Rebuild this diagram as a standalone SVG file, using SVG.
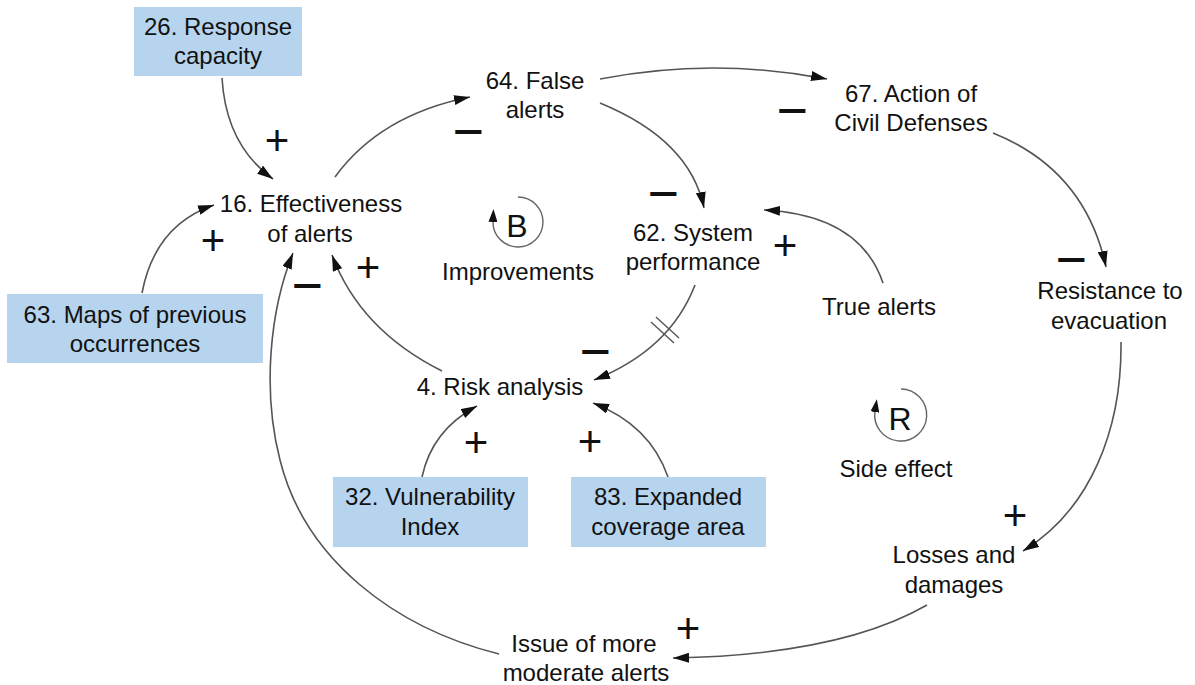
<svg xmlns="http://www.w3.org/2000/svg" width="1195" height="685" viewBox="0 0 1195 685">
  <defs>
    <marker id="arrow" markerUnits="userSpaceOnUse" markerWidth="16" markerHeight="10" viewBox="0 0 16 10" refX="16" refY="5" orient="auto">
      <path d="M0,0 L16,5 L0,10 z" fill="#111"/>
    </marker>
    <marker id="loopArrow" markerUnits="userSpaceOnUse" markerWidth="13" markerHeight="9" viewBox="0 0 13 9" refX="1" refY="4.5" orient="auto">
      <path d="M0,0 L13,4.5 L0,9 z" fill="#111"/>
    </marker>
    <style>
      .lbl { font-family: "Liberation Sans", Arial, sans-serif; font-size: 24px; fill: #111; text-anchor: middle; }
      .box { fill: #b6d4ee; }
      .link { fill: none; stroke: #555; stroke-width: 1.6; marker-end: url(#arrow); }
      .delay { stroke: #555; stroke-width: 1.4; }
      .loop { fill: none; stroke: #666; stroke-width: 1.4; marker-end: url(#loopArrow); }
      .loopTxt { font-family: "Liberation Sans", Arial, sans-serif; font-size: 32px; fill: #111; text-anchor: middle; }
      .plus { font-family: "Liberation Sans", Arial, sans-serif; font-size: 42px; fill: #111; text-anchor: middle; }
      .minus { font-family: "Liberation Sans", Arial, sans-serif; font-size: 36px; font-weight: bold; fill: #111; text-anchor: middle; }
    </style>
  </defs>

  <rect width="1195" height="685" fill="#fff"/>

  <!-- causal links -->
  <g id="connectors">
    <path class="link" d="M222,78 Q226,145 273,179"/>
    <path class="link" d="M142,293 Q155,225 214,205"/>
    <path class="link" d="M335,177 Q380,115 470,97"/>
    <path class="link" d="M600,79 Q713,57 827,79"/>
    <path class="link" d="M600,103 Q690,140 704,208"/>
    <path class="link" d="M883,283 Q860,215 764,210"/>
    <path class="link" d="M695,285 Q670,350 594,380"/>
    <line class="delay" x1="651" y1="322" x2="674" y2="343"/>
    <line class="delay" x1="656" y1="317" x2="679" y2="338"/>
    <path class="link" d="M442,371 Q360,330 332,255"/>
    <path class="link" d="M499,654 C395,628 305,560 280,460 C262,390 270,310 293,253"/>
    <path class="link" d="M993,133 Q1085,170 1106,267"/>
    <path class="link" d="M1121,342 C1122,430 1090,510 1023,551"/>
    <path class="link" d="M927,605 Q840,655 673,658"/>
    <path class="link" d="M422,477 Q432,430 477,406"/>
    <path class="link" d="M668,477 Q650,425 593,403"/>

    <!-- polarity signs -->
    <text class="plus" x="277" y="155">+</text>
    <text class="plus" x="213" y="255">+</text>
    <text class="minus" transform="translate(468,144) scale(1.45,1)">−</text>
    <text class="minus" transform="translate(792,123) scale(1.45,1)">−</text>
    <text class="minus" transform="translate(663,206) scale(1.45,1)">−</text>
    <text class="plus" x="785" y="260">+</text>
    <text class="minus" transform="translate(595,364) scale(1.45,1)">−</text>
    <text class="plus" x="368" y="282">+</text>
    <text class="minus" transform="translate(307,298) scale(1.45,1)">−</text>
    <text class="minus" transform="translate(1071,272) scale(1.45,1)">−</text>
    <text class="plus" x="1015" y="530">+</text>
    <text class="plus" x="688" y="643">+</text>
    <text class="plus" x="476" y="457">+</text>
    <text class="plus" x="590" y="456">+</text>
  </g>

  <!-- exogenous variables (shaded) -->
  <g id="n26">
    <rect class="box" x="134" y="7" width="168" height="69"/>
    <text class="lbl" x="218" y="35">26. Response</text>
    <text class="lbl" x="218" y="64">capacity</text>
  </g>
  <g id="n63">
    <rect class="box" x="7" y="294" width="256" height="69"/>
    <text class="lbl" x="135" y="323">63. Maps of previous</text>
    <text class="lbl" x="135" y="352">occurrences</text>
  </g>
  <g id="n32">
    <rect class="box" x="333" y="477" width="195" height="70"/>
    <text class="lbl" x="430" y="505">32. Vulnerability</text>
    <text class="lbl" x="430" y="535">Index</text>
  </g>
  <g id="n83">
    <rect class="box" x="571" y="477" width="195" height="70"/>
    <text class="lbl" x="668" y="505">83. Expanded</text>
    <text class="lbl" x="668" y="535">coverage area</text>
  </g>

  <!-- internal variables -->
  <g id="n16">
    <text class="lbl" x="311" y="212">16. Effectiveness</text>
    <text class="lbl" x="310" y="242">of alerts</text>
  </g>
  <g id="n64">
    <text class="lbl" x="535" y="89">64. False</text>
    <text class="lbl" x="535" y="118">alerts</text>
  </g>
  <g id="n67">
    <text class="lbl" x="911" y="102">67. Action of</text>
    <text class="lbl" x="911" y="131">Civil Defenses</text>
  </g>
  <g id="n62">
    <text class="lbl" x="693" y="241">62. System</text>
    <text class="lbl" x="693" y="270">performance</text>
  </g>
  <g id="nTrue">
    <text class="lbl" x="879" y="315">True alerts</text>
  </g>
  <g id="nResist">
    <text class="lbl" x="1110" y="299">Resistance to</text>
    <text class="lbl" x="1109" y="329">evacuation</text>
  </g>
  <g id="n4">
    <text class="lbl" x="500" y="395">4. Risk analysis</text>
  </g>
  <g id="nLosses">
    <text class="lbl" x="954" y="563">Losses and</text>
    <text class="lbl" x="954" y="593">damages</text>
  </g>
  <g id="nIssue">
    <text class="lbl" x="584" y="652">Issue of more</text>
    <text class="lbl" x="586" y="681">moderate alerts</text>
  </g>

  <!-- loop markers -->
  <g id="loopB">
    <path class="loop" d="M518,197 A25,25 0 1,1 493,221"/>
    <text class="loopTxt" x="517" y="237">B</text>
    <text class="lbl" x="518" y="280">Improvements</text>
  </g>
  <g id="loopR">
    <path class="loop" d="M901,389 A26,26 0 1,1 875,411"/>
    <text class="loopTxt" x="900" y="430">R</text>
    <text class="lbl" x="896" y="477">Side effect</text>
  </g>
</svg>
